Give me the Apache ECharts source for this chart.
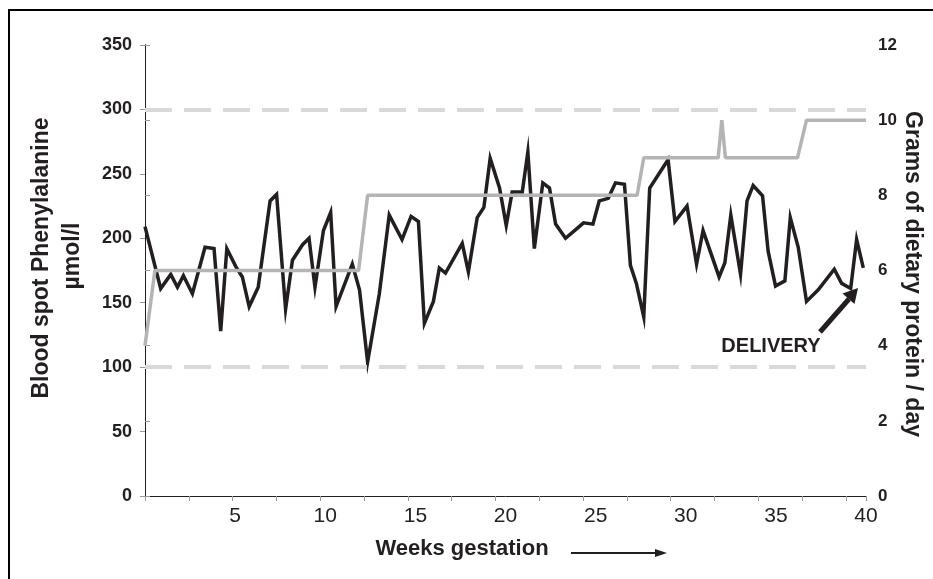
<!DOCTYPE html>
<html>
<head>
<meta charset="utf-8">
<script src="https://cdn.jsdelivr.net/npm/echarts@6/dist/echarts.min.js"></script>
<style>html,body{margin:0;padding:0;background:#fff}#c{width:933px;height:579px}</style>
</head>
<body>
<div id="c"></div>
<script>
// Black line: blood spot phenylalanine (µmol/l) by week of gestation
const pheWeeks = [0.0,0.87,1.43,1.8,2.13,2.63,3.33,3.83,4.2,4.54,5.04,5.4,5.78,6.28,6.94,7.3,7.8,8.18,8.74,9.1,9.43,9.9,10.3,10.6,11.5,11.9,12.35,13.0,13.55,14.26,14.76,15.17,15.5,16.0,16.33,16.67,17.6,17.94,18.43,18.8,19.15,19.67,20.04,20.37,20.93,21.24,21.6,22.07,22.44,22.78,23.33,23.83,24.33,24.85,25.2,25.7,26.1,26.6,26.93,27.26,27.67,28.0,29.02,29.4,30.07,30.6,30.96,31.85,32.17,32.5,33.04,33.4,33.74,34.26,34.57,34.98,35.5,35.8,36.24,36.7,37.35,38.24,38.65,39.15,39.48,39.85];
const pheValues = [209,161,172,162,171,157,193,192,128,192,178,170,147,162,229,234,145,183,195,200,162,206,220,147,180,160,104,157,218,199,217,213,134,151,177,173,196,174,216,224,262,239,210,236,236,267,192,243,239,211,200,206,212,211,229,231,243,242,179,165,139,239,261,213,225,180,206,170,181,218,172,229,241,233,190,163,167,216,193,151,160,176,165,161,199,177];
// Grey line: grams of dietary protein per day
const proteinWeeks = [0,0.55,11.85,12.35,27.3,27.67,31.8,32.0,32.2,36.2,36.7,40];
const proteinValues = [4,6,6,8,8,9,9,10,9,9,10,10];
// Reference limits (µmol/l)
const limits = [100,300];
// Axis ticks
const xTicks = [0,5,10,15,20,25,30,35,40];
const leftTicks = [0,50,100,150,200,250,300,350];
const rightTicks = [0,2,4,6,8,10,12];

const chart = echarts.init(document.getElementById('c'), null, {renderer:'canvas'});
const ink = '#231f20';
const font = '"Liberation Sans", Arial, Helvetica, sans-serif';

const option = {
  animation:false,
  backgroundColor:'#ffffff',
  grid:{left:145,right:67,top:45,bottom:83,containLabel:false},
  xAxis:[{
    type:'value',min:xTicks[0],max:xTicks[xTicks.length-1],interval:5,
    axisLine:{show:true,lineStyle:{color:ink,width:1}},
    axisTick:{show:false},
    splitLine:{show:false},
    axisLabel:{color:ink,fontSize:21,fontFamily:font,margin:10,
      formatter:v=>v===0?'':String(v)}
  },{
    type:'value',min:0,max:40,interval:2.43,position:'bottom',
    axisLine:{show:false},
    axisTick:{show:true,length:5,inside:false,lineStyle:{color:'#9a9a9a',width:1}},
    axisLabel:{show:false},splitLine:{show:false}
  }],
  yAxis:[{
    type:'value',min:leftTicks[0],max:leftTicks[leftTicks.length-1],interval:50,position:'left',
    axisLine:{show:true,lineStyle:{color:ink,width:1}},
    axisTick:{show:true,length:5,lineStyle:{color:'#9a9a9a'}},
    splitLine:{show:false},
    axisLabel:{color:ink,fontSize:18,fontWeight:'bold',fontFamily:font,margin:13}
  },{
    type:'value',min:rightTicks[0],max:rightTicks[rightTicks.length-1],interval:2,position:'right',
    axisLine:{show:true,lineStyle:{color:ink,width:1}},
    axisTick:{show:true,length:5,lineStyle:{color:'#9a9a9a'}},
    splitLine:{show:false},
    axisLabel:{color:ink,fontSize:17,fontWeight:'bold',fontFamily:font,margin:12}
  }],
  series:[{
    type:'line',name:'limits',data:[],xAxisIndex:0,yAxisIndex:0,z:1,
    markLine:{silent:true,symbol:['none','none'],label:{show:false},
      lineStyle:{color:'#d9d9d9',width:4,type:[27,12]},
      data:limits.map(v=>({yAxis:v}))}
  },{
    type:'line',name:'Phe',xAxisIndex:0,yAxisIndex:0,z:3,
    data:pheWeeks.map((w,i)=>[w,pheValues[i]]),
    showSymbol:false,symbol:'none',
    lineStyle:{color:ink,width:3.5,join:'miter'}
  },{
    type:'line',name:'Protein',xAxisIndex:0,yAxisIndex:1,z:4,
    data:proteinWeeks.map((w,i)=>[w,proteinValues[i]]),
    showSymbol:false,symbol:'none',
    lineStyle:{color:'#b4b4b4',width:3.5}
  }],
  graphic:[
    {type:'line',shape:{x1:8,y1:10,x2:933,y2:10},style:{stroke:'#000',lineWidth:2}},
    {type:'line',shape:{x1:9,y1:9,x2:9,y2:579},style:{stroke:'#000',lineWidth:2}},
    {type:'text',x:42,y:258,rotation:Math.PI/2,style:{text:'Blood spot Phenylalanine',font:'bold 23px '+font,fill:ink,align:'center',verticalAlign:'middle'}},
    {type:'text',x:73,y:256,rotation:Math.PI/2,style:{text:'µmol/l',font:'bold 23px '+font,fill:ink,align:'center',verticalAlign:'middle'}},
    {type:'text',x:912,y:274,rotation:-Math.PI/2,style:{text:'Grams of dietary protein / day',font:'bold 23px '+font,fill:ink,align:'center',verticalAlign:'middle'}},
    {type:'text',x:462,y:549,style:{text:'Weeks gestation',font:'bold 22px '+font,fill:ink,align:'center',verticalAlign:'middle'}},
    {type:'line',shape:{x1:571,y1:553,x2:657,y2:553},style:{stroke:ink,lineWidth:2}},
    {type:'polygon',shape:{points:[[667,553],[655,549],[655,557]]},style:{fill:ink}},
    {type:'text',x:771,y:346,style:{text:'DELIVERY',font:'bold 20px '+font,fill:ink,align:'center',verticalAlign:'middle'}},
    {type:'line',shape:{x1:820,y1:332,x2:849,y2:299},style:{stroke:ink,lineWidth:5}},
    {type:'polygon',shape:{points:[[858,288],[854.5,304],[842.5,293.5]]},style:{fill:ink}}
  ]
};
chart.setOption(option);
</script>
</body>
</html>
